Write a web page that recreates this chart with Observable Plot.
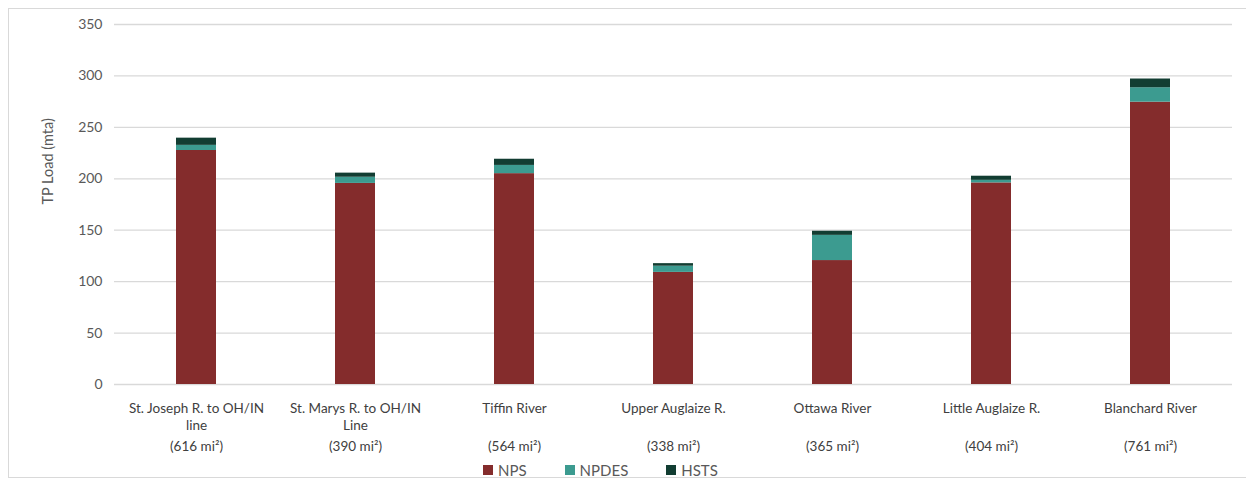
<!DOCTYPE html>
<html>
<head>
<meta charset="utf-8">
<script src="https://cdn.jsdelivr.net/npm/d3@7"></script>
<script src="https://cdn.jsdelivr.net/npm/@observablehq/plot@0.6"></script>
<style>
  html, body { margin: 0; padding: 0; background: #fff; }
  body { width: 1246px; height: 487px; position: relative; overflow: hidden; font-family: Lato, "Open Sans", sans-serif; }
  #frame { position: absolute; left: 8px; top: 8px; width: 1250px; height: 470px; border: 1px solid #d9d9d9; box-sizing: border-box; }
  #chart { position: absolute; left: 0; top: 0; }
  #legend { position: absolute; left: 483px; top: 461px; display: flex; gap: 38px; font-size: 15px; color: #595959; }
  #legend .item { display: flex; align-items: center; gap: 5px; }
  #legend .sw { width: 10px; height: 10px; display: inline-block; }
</style>
</head>
<body>
<div id="frame"></div>
<div id="chart"></div>
<div id="legend"></div>
<script>
const regions = [
  "St. Joseph R. to OH/IN\nline",
  "St. Marys R. to OH/IN\nLine",
  "Tiffin River",
  "Upper Auglaize R.",
  "Ottawa River",
  "Little Auglaize R.",
  "Blanchard River"
];
const areas = ["(616 mi²)", "(390 mi²)", "(564 mi²)", "(338 mi²)", "(365 mi²)", "(404 mi²)", "(761 mi²)"];
const sources = ["NPS", "NPDES", "HSTS"];
const colors = ["#842c2c", "#3c9b90", "#123d32"];
const nps   = [227.5, 195.5, 205, 109, 120.5, 196, 274.5];
const npdes = [5, 6, 8, 6, 24.5, 2.5, 14];
const hsts  = [7, 4, 6, 2.5, 4, 4, 8.5];
const yTicks = [0, 50, 100, 150, 200, 250, 300, 350];

const seriesValues = {NPS: nps, NPDES: npdes, HSTS: hsts};
const data = [];
sources.forEach(s => regions.forEach((r, i) => data.push({region: r, source: s, value: seriesValues[s][i]})));
const areaData = regions.map((r, i) => ({region: r, area: areas[i]}));

const plot = Plot.plot({
  width: 1246,
  height: 460,
  marginTop: 24,
  marginBottom: 76,
  marginLeft: 114,
  marginRight: 14,
  style: {fontFamily: "Lato, 'Open Sans', sans-serif", background: "transparent"},
  x: {domain: regions, paddingInner: 0.75, paddingOuter: 0.375, axis: null},
  y: {domain: [0, 350], ticks: yTicks, label: null},
  color: {domain: sources, range: colors},
  marks: [
    Plot.ruleY(yTicks, {stroke: "#d9d9d9", strokeWidth: 1.3}),
    Plot.axisY({ticks: yTicks, tickSize: 0, tickPadding: 12, fontSize: 14, color: "#595959", label: null}),
    Plot.text(["TP Load (mta)"], {frameAnchor: "left", rotate: -90, dx: -66, fontSize: 14.5, fill: "#595959"}),
    Plot.barY(data, {x: "region", y: "value", fill: "source", order: sources}),
    Plot.text(regions, {x: d => d, frameAnchor: "bottom", lineAnchor: "top", dy: 16, fontSize: 13.5, lineHeight: 1.27, fill: "#404040"}),
    Plot.text(areaData, {x: "region", text: "area", frameAnchor: "bottom", lineAnchor: "middle", dy: 62, fontSize: 13.5, fill: "#404040"})
  ]
});
document.getElementById("chart").appendChild(plot);

const legend = document.getElementById("legend");
sources.forEach((s, i) => {
  const item = document.createElement("span");
  item.className = "item";
  const sw = document.createElement("span");
  sw.className = "sw";
  sw.style.background = colors[i];
  const t = document.createElement("span");
  t.textContent = s;
  item.appendChild(sw);
  item.appendChild(t);
  legend.appendChild(item);
});
</script>
</body>
</html>
